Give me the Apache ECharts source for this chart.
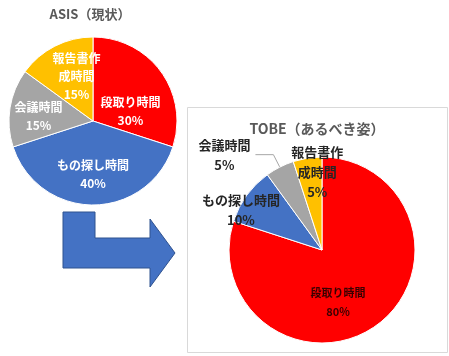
<!DOCTYPE html>
<html>
<head>
<meta charset="utf-8">
<script src="https://cdn.jsdelivr.net/npm/echarts@6/dist/echarts.min.js"></script>
<style>
html,body{margin:0;padding:0;background:#fff;}
#c{width:449px;height:356px;}
</style>
</head>
<body>
<div id="c"></div>
<script>
// ---- data ----
const categories = ['段取り時間', 'もの探し時間', '会議時間', '報告書作成時間'];
const labelNames = ['段取り時間', 'もの探し時間', '会議時間', '報告書作\n成時間'];
const asisValues = [30, 40, 15, 15];
const tobeValues = [80, 10, 5, 5];
const titles = ['ASIS（現状）', 'TOBE（あるべき姿）'];
const colors = ['#FF0000', '#4472C4', '#A5A5A5', '#FFC000'];

// ---- style / layout nudges (label offsets only) ----
const asisNudge = [[1, 17], [0, 8], [-10, 2], [4, -4]];
const tobeNudge = [[-13, 12], [-41, -11], [0, 0], [3, -29]];

const FONT = '"Noto Sans CJK JP", "Noto Sans", sans-serif';

function fmt(p) {
  const name = labelNames[p.dataIndex].split('\n');
  const lines = name.concat([Math.round(p.percent) + '%']);
  return lines.map(s => '{t|' + s + '}').join('\n');
}

function makeData(values, perItem) {
  return categories.map((c, i) => Object.assign({
    name: c, value: values[i], itemStyle: { color: colors[i] }
  }, perItem ? perItem(i) : {}));
}

const chart = echarts.init(document.getElementById('c'), null, { renderer: 'canvas' });

chart.setOption({
  animation: false,
  backgroundColor: '#fff',
  graphic: [
    { type: 'rect', z: -10, shape: { x: 187.5, y: 107.5, width: 260, height: 245 },
      style: { fill: '#fff', stroke: '#d9d9d9', lineWidth: 1 } },
    { type: 'polygon', z: -5,
      shape: { points: [[63, 212], [95, 212], [95, 238], [150, 238], [150, 219], [175, 253], [150, 287], [150, 268], [63, 268]] },
      style: { fill: '#4472C4', stroke: '#2F528F', lineWidth: 1 } },
    { type: 'text', x: 90, y: 14, z: 10,
      style: { text: titles[0], align: 'center', verticalAlign: 'middle',
        font: 'bold 13px ' + FONT, fill: '#595959' } },
    { type: 'text', x: 317, y: 129, z: 10,
      style: { text: titles[1], align: 'center', verticalAlign: 'middle',
        font: 'bold 14px ' + FONT, fill: '#595959' } }
  ],
  series: [
    {
      type: 'pie',
      center: [93, 121],
      radius: [0, 84],
      startAngle: 90,
      clockwise: true,
      silent: true,
      itemStyle: { borderColor: '#fff', borderWidth: 1 },
      label: {
        show: true, position: 'inside', formatter: fmt,
        rich: { t: { color: '#fff', fontSize: 12, fontWeight: 'bold', fontFamily: FONT, lineHeight: 18, align: 'center' } }
      },
      labelLine: { show: false },
      labelLayout: p => ({ dx: asisNudge[p.dataIndex][0], dy: asisNudge[p.dataIndex][1] }),
      data: makeData(asisValues)
    },
    {
      type: 'pie',
      center: [322, 250],
      radius: [0, 93],
      startAngle: 90,
      clockwise: true,
      silent: true,
      itemStyle: { borderColor: '#fff', borderWidth: 1 },
      label: {
        show: true, position: 'inside', formatter: fmt,
        rich: { t: { color: '#262626', fontSize: 13, fontWeight: 'bold', fontFamily: FONT, lineHeight: 20, align: 'center' } }
      },
      labelLine: { show: false },
      labelLayout: p => ({ dx: tobeNudge[p.dataIndex][0], dy: tobeNudge[p.dataIndex][1] }),
      data: makeData(tobeValues, i => {
        if (i === 0) {
          return { label: { rich: { t: { color: '#3a0000', fontSize: 11, fontWeight: 'bold', fontFamily: FONT, lineHeight: 19, align: 'center' } } } };
        }
        if (i === 2) {
          return {
            label: { position: 'outside', distanceToLabelLine: 4,
              rich: { t: { color: '#262626', fontSize: 13, fontWeight: 'bold', fontFamily: FONT, lineHeight: 20, width: 54, align: 'center' } } },
            labelLine: { show: true, length: 14, length2: 18, lineStyle: { color: '#a6a6a6', width: 1 } }
          };
        }
        return {};
      })
    }
  ]
});
</script>
</body>
</html>
